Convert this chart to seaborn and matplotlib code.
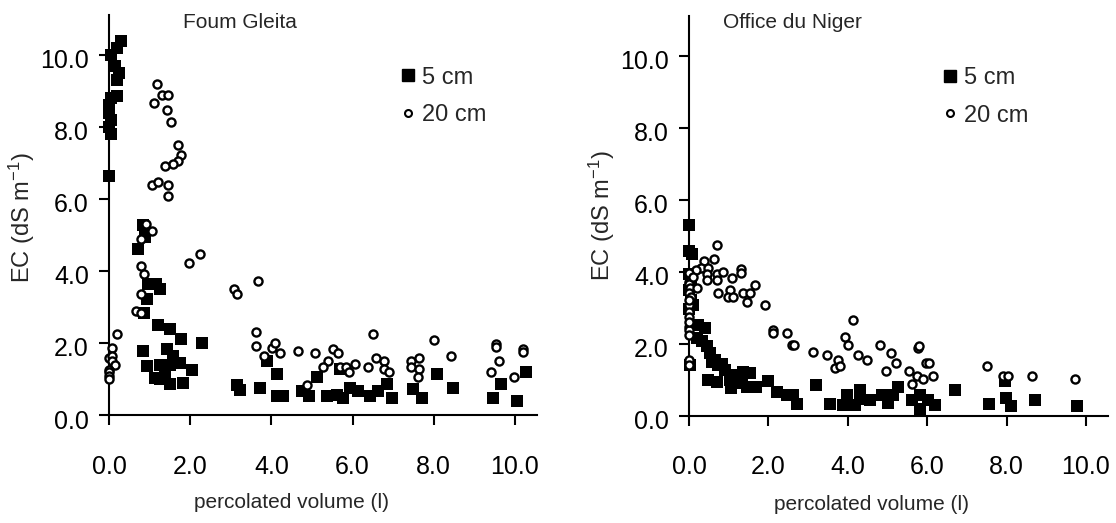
import matplotlib
matplotlib.use("Agg")
import matplotlib.pyplot as plt
import matplotlib.transforms as mtransforms
import seaborn as sns
from matplotlib.lines import Line2D

sns.set_theme(style="ticks")
plt.rcParams['font.family'] = ['Liberation Sans', 'DejaVu Sans']
plt.rcParams['mathtext.fontset'] = 'custom'
plt.rcParams['mathtext.rm'] = 'Liberation Sans'
plt.rcParams['mathtext.it'] = 'Liberation Sans:italic'
plt.rcParams['mathtext.bf'] = 'Liberation Sans:bold'

# ---------------- data ----------------
panel_titles = ["Foum Gleita", "Office du Niger"]
series_labels = ["5 cm", "20 cm"]
x_ticks = [0.0, 2.0, 4.0, 6.0, 8.0, 10.0]
x_tick_labels = ["0.0", "2.0", "4.0", "6.0", "8.0", "10.0"]
y_ticks = [0.0, 2.0, 4.0, 6.0, 8.0, 10.0]
y_tick_labels = ["0.0", "2.0", "4.0", "6.0", "8.0", "10.0"]
x_label = "percolated volume (l)"
y_label = "EC (dS m$^{-1}$)"

fg_5cm_x = [0.30, 0.20, 0.05, 0.15, 0.25, 0.20, 0.20, 0.05, 0.00, 0.00, 0.05, 0.00, 0.05, 0.00,
            0.85, 0.89, 0.72, 0.97, 1.17, 1.26, 0.93, 0.87, 1.20, 1.50, 1.77, 2.30, 0.84, 1.44, 1.58,
            0.93, 1.26, 1.50, 1.75, 2.04, 1.13, 1.38, 1.50, 1.83, 1.26,
            3.15, 3.23, 3.72, 3.88, 4.15, 4.13, 4.29, 4.75, 4.93, 5.13, 5.38, 5.61, 5.77, 5.69, 5.94,
            6.14, 6.43, 6.63, 6.84, 6.96, 7.50, 7.70, 8.09, 8.48, 9.47, 9.66, 10.06, 10.27]
fg_5cm_y = [10.40, 10.20, 10.00, 9.70, 9.50, 9.30, 8.85, 8.80, 8.60, 8.40, 8.20, 8.00, 7.80, 6.65,
            5.29, 4.95, 4.60, 3.63, 3.63, 3.49, 3.21, 2.84, 2.51, 2.38, 2.10, 2.00, 1.77, 1.82, 1.63,
            1.36, 1.40, 1.40, 1.45, 1.26, 1.03, 1.12, 0.85, 0.89, 0.99,
            0.83, 0.69, 0.75, 1.50, 1.13, 0.52, 0.52, 0.66, 0.52, 1.06, 0.52, 0.56, 0.48, 1.28, 0.75,
            0.66, 0.52, 0.66, 0.85, 0.48, 0.71, 0.48, 1.13, 0.75, 0.46, 0.85, 0.38, 1.19]

fg_20cm_x = [1.19, 1.12, 1.31, 1.46, 1.44, 1.52, 1.71, 1.77, 1.71, 1.58, 1.38, 1.06, 1.20, 1.45, 1.45,
             0.78, 1.05, 0.90, 0.79, 0.86, 0.79, 0.66, 0.79, 1.98, 2.24,
             3.08, 3.15, 3.68, 3.62, 3.62, 3.82, 4.02, 4.09, 4.21, 4.66, 5.07, 5.52, 5.65, 5.40, 5.26,
             4.87, 5.69, 5.85, 5.92, 6.06, 6.37, 6.51, 6.58, 6.78, 6.78, 6.90, 7.43, 7.63, 7.43, 7.63,
             7.60, 8.01, 8.42, 9.53, 9.53, 9.40, 9.61, 10.19, 10.19, 9.98,
             0.20, 0.07, 0.00, 0.07, 0.07, 0.16, 0.00, 0.00, 0.00, 0.00]
fg_20cm_y = [9.20, 8.67, 8.88, 8.88, 8.46, 8.15, 7.49, 7.21, 7.05, 6.98, 6.91, 6.40, 6.47, 6.38, 6.08,
             4.89, 5.12, 5.30, 4.15, 3.93, 3.35, 2.90, 2.82, 4.23, 4.46,
             3.50, 3.35, 3.71, 2.31, 1.93, 1.65, 1.85, 2.00, 1.71, 1.79, 1.71, 1.82, 1.71, 1.50, 1.34,
             0.83, 1.34, 1.34, 1.19, 1.42, 1.34, 2.24, 1.57, 1.50, 1.28, 1.19, 1.50, 1.57, 1.34, 1.28,
             1.05, 2.08, 1.63, 1.97, 1.89, 1.19, 1.50, 1.83, 1.75, 1.05,
             2.24, 1.87, 1.59, 1.63, 1.50, 1.40, 1.26, 1.20, 1.08, 1.00]

on_5cm_x = [0.00, 0.00, 0.07, 0.00, 0.05, 0.00, 0.05, 0.00, 0.11, 0.23, 0.40, 0.19, 0.33, 0.45, 0.53,
            0.57, 0.65, 0.74, 0.82, 0.91, 0.49, 0.70, 1.03, 1.07, 1.12, 1.37, 1.54, 1.33, 1.28, 1.45,
            1.70, 2.00, 2.21, 2.46, 2.63, 2.71, 3.20, 3.55, 0.03,
            3.89, 3.97, 4.18, 4.31, 4.30, 4.56, 4.85, 5.02, 5.13, 5.27, 5.61, 5.82, 5.82, 6.03, 6.20,
            6.70, 7.56, 7.96, 7.98, 8.10, 8.72, 9.78]
on_5cm_y = [5.30, 4.57, 4.50, 3.94, 3.80, 3.50, 3.20, 2.97, 3.06, 2.51, 2.44, 2.14, 2.06, 1.92, 1.74,
            1.49, 1.54, 1.40, 1.44, 1.26, 0.98, 0.94, 1.00, 0.77, 1.12, 1.21, 1.17, 0.89, 0.98, 0.80,
            0.80, 0.96, 0.66, 0.56, 0.56, 0.33, 0.84, 0.33, 1.40,
            0.29, 0.56, 0.29, 0.70, 0.47, 0.43, 0.56, 0.35, 0.56, 0.80, 0.43, 0.56, 0.19, 0.43, 0.29,
            0.70, 0.33, 0.95, 0.49, 0.27, 0.43, 0.27]

on_20cm_x = [0.70, 0.64, 0.39, 0.30, 0.47, 0.17, 0.45, 0.45, 0.70, 0.86, 0.71, 1.08, 1.31, 1.31, 1.66,
             0.74, 1.03, 0.99, 1.10, 1.37, 1.54, 1.45, 1.91, 2.12, 2.12, 2.46, 2.59, 2.65, 3.13, 3.47,
             3.75, 3.68,
             4.14, 3.93, 4.01, 3.80, 4.26, 4.48, 4.81, 5.08, 5.21, 4.95, 5.78, 5.80, 5.97, 6.05, 6.15,
             5.55, 5.75, 5.89, 5.63, 7.50, 7.90, 8.04, 8.64, 9.72,
             0.00, 0.00, 0.03, 0.00, 0.05, 0.00, 0.00, 0.00, 0.00, 0.00, 0.00, 0.00, 0.00, 0.19, 0.00,
             0.10, 0.00, 0.00]
on_20cm_y = [4.73, 4.34, 4.29, 4.10, 4.10, 4.04, 3.92, 3.76, 3.94, 3.99, 3.76, 3.82, 4.08, 3.97, 3.62,
             3.39, 3.48, 3.30, 3.30, 3.39, 3.39, 3.16, 3.08, 2.37, 2.28, 2.28, 1.97, 1.97, 1.77, 1.68,
             1.54, 1.31,
             2.65, 2.19, 1.97, 1.38, 1.68, 1.54, 1.97, 1.75, 1.46, 1.23, 1.88, 1.93, 1.46, 1.46, 1.09,
             1.23, 1.09, 1.01, 0.87, 1.38, 1.09, 1.09, 1.09, 1.01,
             3.71, 3.66, 3.53, 3.39, 3.30, 3.08, 2.88, 2.74, 2.46, 2.37, 2.23, 1.54, 1.40, 3.53, 3.97,
             3.85, 3.20, 2.60]

# ---------------- layout ----------------
W, H = 1116, 523
fig = plt.figure(figsize=(W / 100, H / 100), dpi=100)

XLIM = (-0.3, 10.55)
YLIM = (-0.3, 11.1)

def frac_box(left_px, top_px, right_px, bottom_px):
    return [left_px / W, 1 - bottom_px / H, (right_px - left_px) / W, (bottom_px - top_px) / H]

ax1 = fig.add_axes(frac_box(96.8, 15.4, 537.3, 425.8))
ax2 = fig.add_axes(frac_box(677.1, 15.9, 1107.8, 426.3))

panels = [
    (ax1, fg_5cm_x, fg_5cm_y, fg_20cm_x, fg_20cm_y, 0.685),
    (ax2, on_5cm_x, on_5cm_y, on_20cm_x, on_20cm_y, 0.6116),
]

label_shift = mtransforms.ScaledTranslation(0, -4 / 100, fig.dpi_scale_trans)

for ax, sx, sy, cx, cy, leg_x in panels:
    sns.scatterplot(x=sx, y=sy, ax=ax, marker="s", s=85, color="black",
                    edgecolor="black", linewidth=0, clip_on=False, zorder=3)
    sns.scatterplot(x=cx, y=cy, ax=ax, marker="o", s=34, color="white",
                    edgecolor="black", linewidth=1.7, clip_on=False, zorder=4)
    ax.set_xlim(*XLIM)
    ax.set_ylim(*YLIM)
    ax.set_facecolor("white")
    for side in ("top", "right"):
        ax.spines[side].set_visible(False)
    ax.spines["left"].set_position(("data", 0))
    ax.spines["bottom"].set_position(("data", 0))
    ax.spines["left"].set_bounds(0, YLIM[1])
    ax.spines["bottom"].set_bounds(0, XLIM[1])
    for side in ("left", "bottom"):
        ax.spines[side].set_linewidth(1.5)
        ax.spines[side].set_color("black")
    ax.set_xticks(x_ticks)
    ax.set_xticklabels(x_tick_labels)
    ax.set_yticks(y_ticks)
    ax.set_yticklabels(y_tick_labels)
    ax.tick_params(axis="both", direction="out", length=7.5, width=1.5, color="black",
                   labelsize=18, labelcolor="black", bottom=True, left=True)
    ax.tick_params(axis="x", pad=21)
    ax.tick_params(axis="y", pad=7)
    for lab in ax.get_yticklabels():
        lab.set_transform(lab.get_transform() + label_shift)
    ax.set_xlabel("")
    ax.set_ylabel("")

    handles = [
        Line2D([], [], marker="s", ls="", color="black", markersize=9),
        Line2D([], [], marker="o", ls="", markerfacecolor="white", markeredgecolor="black",
               markersize=5, markeredgewidth=1.5),
    ]
    ax.legend(handles, series_labels, loc="upper left", bbox_to_anchor=(leg_x, 0.875),
              frameon=False, fontsize=17, handletextpad=0.2, labelspacing=0.65,
              handlelength=0.8, borderpad=0, borderaxespad=0)

# titles
fig.text(183 / W, 1 - 22 / H, panel_titles[0], ha="left", va="center", fontsize=15)
fig.text(723 / W, 1 - 22 / H, panel_titles[1], ha="left", va="center", fontsize=15)
# axis labels
fig.text(22 / W, 1 - 218 / H, y_label, rotation=90, ha="center", va="center", fontsize=17)
fig.text(602 / W, 1 - 216 / H, y_label, rotation=90, ha="center", va="center", fontsize=17)
fig.text(291 / W, 1 - 503 / H, x_label, ha="center", va="center", fontsize=15)
fig.text(871 / W, 1 - 505 / H, x_label, ha="center", va="center", fontsize=15)

fig.savefig("out.png", dpi=100, facecolor="white")
